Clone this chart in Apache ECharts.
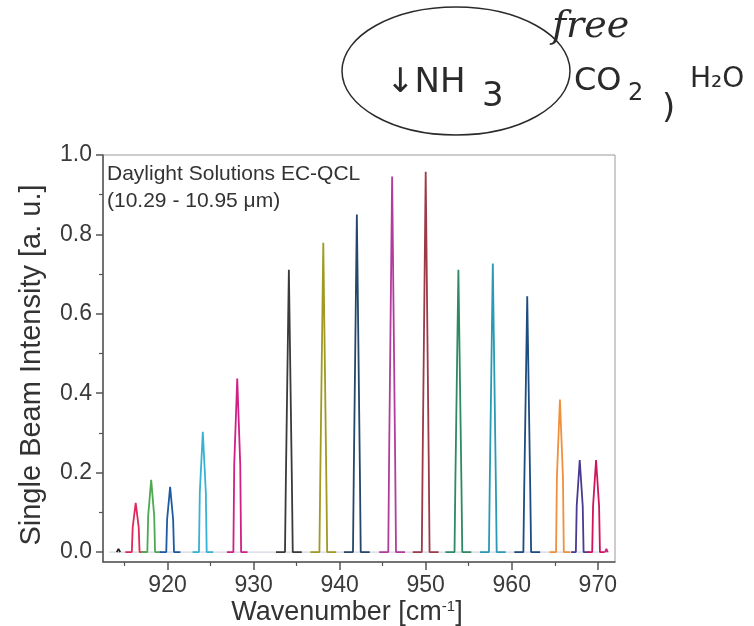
<!DOCTYPE html>
<html>
<head>
<meta charset="utf-8">
<title>EC-QCL single beam</title>
<script src="https://cdn.jsdelivr.net/npm/echarts@6/dist/echarts.min.js"></script>
<style>
  html, body { margin: 0; padding: 0; background: #fff; }
  #chart { width: 754px; height: 626px; }
</style>
</head>
<body>
<div id="chart"></div>
<script>
// tick labels
const xMajorTicks = [920, 930, 940, 950, 960, 970];
const xMinorTicks = [915, 925, 935, 945, 955, 965];
const yMajorTicks = [0, 0.2, 0.4, 0.6, 0.8, 1.0];
const yMinorTicks = [0.1, 0.3, 0.5, 0.7, 0.9];

// laser lines [wavenumber, intensity]
const peak914 = [[914.1, 0], [914.3, 0.008], [914.5, 0]];
const peak916 = [[915.1, 0], [915.85, 0], [915.95, 0.062], [916.3, 0.124], [916.65, 0.062], [916.75, 0], [917.5, 0]];
const peak918 = [[916.9, 0], [917.65, 0], [917.75, 0.091], [918.1, 0.182], [918.45, 0.091], [918.55, 0], [919.3, 0]];
const peak920 = [[919.1, 0], [919.85, 0], [919.95, 0.082], [920.3, 0.164], [920.65, 0.082], [920.75, 0], [921.5, 0]];
const peak924 = [[922.9, 0], [923.65, 0], [923.75, 0.15], [924.1, 0.303], [924.45, 0.15], [924.55, 0], [925.3, 0]];
const peak928 = [[926.9, 0], [927.65, 0], [927.75, 0.22], [928.1, 0.437], [928.45, 0.22], [928.55, 0], [929.3, 0]];
const peak934 = [[932.6, 0], [933.65, 0], [933.75, 0.18], [934.1, 0.711], [934.45, 0.18], [934.55, 0], [935.6, 0]];
const peak938 = [[936.6, 0], [937.65, 0], [937.75, 0.19], [938.1, 0.779], [938.45, 0.19], [938.55, 0], [939.6, 0]];
const peak942 = [[940.5, 0], [941.55, 0], [941.65, 0.21], [942.0, 0.850], [942.35, 0.21], [942.45, 0], [943.5, 0]];
const peak946 = [[944.6, 0], [945.65, 0], [945.75, 0.24], [946.1, 0.946], [946.45, 0.24], [946.55, 0], [947.6, 0]];
const peak950 = [[948.5, 0], [949.55, 0], [949.65, 0.24], [950.0, 0.958], [950.35, 0.24], [950.45, 0], [951.5, 0]];
const peak954 = [[952.3, 0], [953.35, 0], [953.45, 0.18], [953.8, 0.711], [954.15, 0.18], [954.25, 0], [955.3, 0]];
const peak958 = [[956.3, 0], [957.35, 0], [957.45, 0.18], [957.8, 0.727], [958.15, 0.18], [958.25, 0], [959.3, 0]];
const peak962 = [[960.3, 0], [961.35, 0], [961.45, 0.16], [961.8, 0.644], [962.15, 0.16], [962.25, 0], [963.3, 0]];
const peak966 = [[964.4, 0], [965.15, 0], [965.25, 0.19], [965.6, 0.384], [965.95, 0.19], [966.05, 0], [966.8, 0]];
const peak968 = [[966.9, 0], [967.45, 0], [967.55, 0.116], [967.9, 0.232], [968.25, 0.116], [968.35, 0], [969.0, 0]];
const peak970 = [[968.8, 0], [969.35, 0], [969.45, 0.116], [969.8, 0.232], [970.15, 0.116], [970.25, 0], [970.8, 0]];
const peak971 = [[970.85, 0], [971.0, 0.008], [971.15, 0]];
const baseline = [[913.2, 0], [971.3, 0]];

const peaks = [peak914, peak916, peak918, peak920, peak924, peak928, peak934, peak938, peak942,
  peak946, peak950, peak954, peak958, peak962, peak966, peak968, peak970, peak971];

// 颜色
const peakColors = ['#222222', '#e0285a', '#4fa852', '#1e5aa0', '#38b2d2', '#d01f86', '#3a3a3a', '#a09a22', '#24476a',
  '#b23c9c', '#9c3a48', '#2e8a62', '#2a9ab4', '#1f4c7e', '#f0903c', '#4a3a92', '#d0145e', '#d0207a'];

const chart = echarts.init(document.getElementById('chart'), null, { renderer: 'canvas' });

const series = [{
  type: 'line',
  data: baseline,
  showSymbol: false,
  silent: true,
  lineStyle: { color: '#d6d6e2', width: 1.2 }
}];
peaks.forEach((p, i) => {
  series.push({
    type: 'line',
    data: p,
    showSymbol: false,
    lineStyle: { color: peakColors[i], width: 1.8 },
    itemStyle: { color: peakColors[i] }
  });
});

const labelFont = 'Liberation Sans, Arial, sans-serif';
const hand = '#2a2a2a';

const option = {
  animation: false,
  grid: {
    left: 103, right: 139, top: 155, bottom: 64,
    outerBoundsMode: 'none',
    show: true, borderColor: '#9a9a9a', borderWidth: 1
  },
  xAxis: [
    {
      type: 'value', min: 912.5, max: 972,
      name: '{a|Wavenumber [cm}{s|-1}{a|]}',
      nameLocation: 'middle', nameGap: 37, nameMoveOverlap: false,
      nameTextStyle: {
        padding: [0, 24, 0, 0],
        rich: {
          a: { fontSize: 27, color: '#333', fontFamily: labelFont },
          s: { fontSize: 15, color: '#333', fontFamily: labelFont, verticalAlign: 'top', padding: [0, 0, 13, 0] }
        }
      },
      splitLine: { show: false },
      axisLine: { onZero: false, lineStyle: { color: '#555', width: 1.5 } },
      axisTick: { customValues: xMajorTicks, length: 8, lineStyle: { color: '#555', width: 1.5 } },
      axisLabel: { customValues: xMajorTicks, fontSize: 23, color: '#3a3a3a', margin: 12, fontFamily: labelFont }
    },
    {
      type: 'value', min: 912.5, max: 972, position: 'bottom',
      splitLine: { show: false },
      axisLine: { show: false, onZero: false },
      axisTick: { customValues: xMinorTicks, length: 4, lineStyle: { color: '#555', width: 1.2 } },
      axisLabel: { show: false }
    }
  ],
  yAxis: [
    {
      type: 'value', min: -0.025, max: 1.0,
      splitLine: { show: false },
      axisLine: { onZero: false, lineStyle: { color: '#555', width: 1.5 } },
      axisTick: { customValues: yMajorTicks, length: 7, lineStyle: { color: '#555', width: 1.5 } },
      axisLabel: {
        customValues: yMajorTicks, fontSize: 23, color: '#3a3a3a', margin: 11, fontFamily: labelFont,
        formatter: v => v.toFixed(1)
      }
    },
    {
      type: 'value', min: -0.025, max: 1.0, position: 'left',
      splitLine: { show: false },
      axisLine: { show: false, onZero: false },
      axisTick: { customValues: yMinorTicks, length: 4, lineStyle: { color: '#555', width: 1.2 } },
      axisLabel: { show: false }
    }
  ],
  graphic: [
    // y 轴标题
    {
      type: 'text', x: 32, y: 365, rotation: Math.PI / 2,
      style: {
        text: 'Single Beam Intensity [a. u.]',
        font: '29px ' + labelFont, fill: '#333',
        align: 'center', verticalAlign: 'middle'
      }
    },
    {
      type: 'text', left: 107, top: 161,
      style: {
        text: 'Daylight Solutions EC-QCL\n(10.29 - 10.95 μm)',
        font: '21px ' + labelFont, fill: '#333', lineHeight: 27
      }
    },
    // 手写批注
    {
      type: 'ellipse', shape: { cx: 456, cy: 71, rx: 114, ry: 64 },
      style: { fill: 'none', stroke: hand, lineWidth: 1.5 }
    },
    {
      type: 'text', left: 386, top: 66,
      style: { text: '↓NH', font: '34px DejaVu Sans, sans-serif', fill: hand }
    },
    {
      type: 'text', left: 482, top: 80,
      style: { text: '3', font: '34px DejaVu Sans, sans-serif', fill: hand }
    },
    {
      type: 'text', left: 552, top: 8,
      style: { text: 'free', font: 'italic 38px DejaVu Serif, serif', fill: hand }
    },
    {
      type: 'text', left: 574, top: 66,
      style: { text: 'CO', font: '32px DejaVu Sans, sans-serif', fill: hand }
    },
    {
      type: 'text', left: 628, top: 82,
      style: { text: '2', font: '24px DejaVu Sans, sans-serif', fill: hand }
    },
    {
      type: 'text', left: 662, top: 92,
      style: { text: ')', font: '34px DejaVu Sans, sans-serif', fill: hand }
    },
    {
      type: 'text', left: 690, top: 66,
      style: { text: 'H₂O', font: '28px DejaVu Sans, sans-serif', fill: hand }
    }
  ],
  series: series
};

chart.setOption(option);
</script>
</body>
</html>
